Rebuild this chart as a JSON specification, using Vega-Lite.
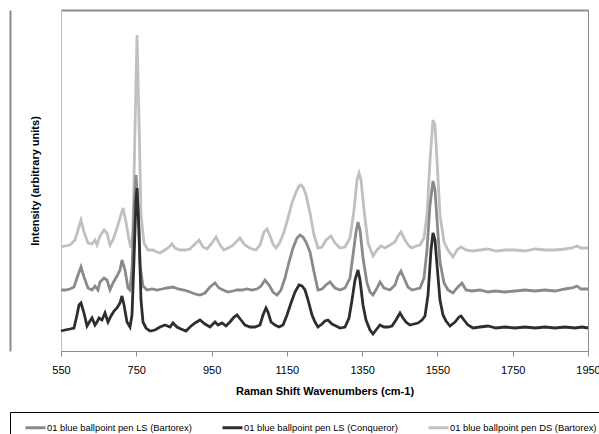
{
  "$schema": "https://vega.github.io/schema/vega-lite/v6.json",
  "width": 527,
  "height": 341,
  "autosize": {"type": "none"},
  "padding": {"left": 61, "top": 10, "right": 11, "bottom": 83},
  "background": "#ffffff",
  "config": {
    "view": {"stroke": "#8c8c8c", "strokeWidth": 1},
    "font": "Liberation Sans"
  },
  "resolve": {"axis": {"y": "independent", "x": "independent"}},
  "layer": [
    {
      "data": {"values": [
        {"wavenumber":550,"intensity":104},{"wavenumber":560.6,"intensity":105},{"wavenumber":573.9,"intensity":106},{"wavenumber":587.2,"intensity":111},{"wavenumber":595.2,"intensity":121},{"wavenumber":603.1,"intensity":131},{"wavenumber":611.1,"intensity":119},{"wavenumber":621.7,"intensity":108},{"wavenumber":632.4,"intensity":107},{"wavenumber":640.3,"intensity":111},{"wavenumber":645.6,"intensity":106},{"wavenumber":653.6,"intensity":115},{"wavenumber":664.2,"intensity":121},{"wavenumber":672.2,"intensity":118},{"wavenumber":680.2,"intensity":106},{"wavenumber":688.1,"intensity":111},{"wavenumber":698.8,"intensity":123},{"wavenumber":706.7,"intensity":133},{"wavenumber":714.7,"intensity":143},{"wavenumber":722.7,"intensity":129},{"wavenumber":730.6,"intensity":111},{"wavenumber":736.0,"intensity":103},{"wavenumber":741.3,"intensity":121},{"wavenumber":746.6,"intensity":221},{"wavenumber":751.9,"intensity":316},{"wavenumber":757.2,"intensity":231},{"wavenumber":762.5,"intensity":136},{"wavenumber":770.5,"intensity":108},{"wavenumber":781.1,"intensity":101},{"wavenumber":794.4,"intensity":101},{"wavenumber":805.0,"intensity":99},{"wavenumber":813.0,"intensity":98},{"wavenumber":826.3,"intensity":101},{"wavenumber":836.9,"intensity":104},{"wavenumber":844.9,"intensity":107},{"wavenumber":852.8,"intensity":103},{"wavenumber":866.1,"intensity":101},{"wavenumber":879.4,"intensity":101},{"wavenumber":892.7,"intensity":102},{"wavenumber":906.0,"intensity":107},{"wavenumber":916.6,"intensity":111},{"wavenumber":927.2,"intensity":104},{"wavenumber":937.9,"intensity":102},{"wavenumber":951.1,"intensity":108},{"wavenumber":961.8,"intensity":114},{"wavenumber":972.4,"intensity":106},{"wavenumber":983.0,"intensity":101},{"wavenumber":993.6,"intensity":103},{"wavenumber":1004.3,"intensity":105},{"wavenumber":1014.9,"intensity":109},{"wavenumber":1025.5,"intensity":113},{"wavenumber":1036.1,"intensity":107},{"wavenumber":1046.8,"intensity":104},{"wavenumber":1057.4,"intensity":102},{"wavenumber":1068.0,"intensity":101},{"wavenumber":1078.7,"intensity":106},{"wavenumber":1089.3,"intensity":119},{"wavenumber":1097.3,"intensity":122},{"wavenumber":1105.2,"intensity":115},{"wavenumber":1113.2,"intensity":107},{"wavenumber":1121.2,"intensity":103},{"wavenumber":1131.8,"intensity":109},{"wavenumber":1142.4,"intensity":119},{"wavenumber":1153.0,"intensity":133},{"wavenumber":1163.7,"intensity":148},{"wavenumber":1174.3,"intensity":159},{"wavenumber":1182.3,"intensity":165},{"wavenumber":1187.6,"intensity":166},{"wavenumber":1192.9,"intensity":164},{"wavenumber":1200.9,"intensity":156},{"wavenumber":1211.5,"intensity":138},{"wavenumber":1222.1,"intensity":116},{"wavenumber":1232.7,"intensity":103},{"wavenumber":1243.4,"intensity":104},{"wavenumber":1254.0,"intensity":111},{"wavenumber":1267.3,"intensity":115},{"wavenumber":1277.9,"intensity":108},{"wavenumber":1291.2,"intensity":103},{"wavenumber":1304.5,"intensity":104},{"wavenumber":1317.7,"intensity":113},{"wavenumber":1328.4,"intensity":141},{"wavenumber":1336.3,"intensity":171},{"wavenumber":1341.7,"intensity":178},{"wavenumber":1347.0,"intensity":171},{"wavenumber":1355.0,"intensity":141},{"wavenumber":1365.6,"intensity":108},{"wavenumber":1378.8,"intensity":95},{"wavenumber":1389.5,"intensity":101},{"wavenumber":1400.1,"intensity":105},{"wavenumber":1410.7,"intensity":103},{"wavenumber":1424.0,"intensity":106},{"wavenumber":1437.3,"intensity":109},{"wavenumber":1445.3,"intensity":115},{"wavenumber":1453.2,"intensity":119},{"wavenumber":1463.9,"intensity":111},{"wavenumber":1474.5,"intensity":105},{"wavenumber":1482.4,"intensity":103},{"wavenumber":1493.1,"intensity":105},{"wavenumber":1503.7,"intensity":106},{"wavenumber":1514.3,"intensity":113},{"wavenumber":1522.3,"intensity":136},{"wavenumber":1530.3,"intensity":191},{"wavenumber":1538.2,"intensity":231},{"wavenumber":1543.5,"intensity":226},{"wavenumber":1548.9,"intensity":191},{"wavenumber":1556.8,"intensity":136},{"wavenumber":1567.5,"intensity":109},{"wavenumber":1578.1,"intensity":101},{"wavenumber":1591.4,"intensity":94},{"wavenumber":1602.0,"intensity":101},{"wavenumber":1612.6,"intensity":104},{"wavenumber":1625.9,"intensity":101},{"wavenumber":1641.8,"intensity":100},{"wavenumber":1663.1,"intensity":101},{"wavenumber":1684.3,"intensity":102},{"wavenumber":1705.6,"intensity":100},{"wavenumber":1729.5,"intensity":101},{"wavenumber":1756.1,"intensity":101},{"wavenumber":1782.6,"intensity":100},{"wavenumber":1809.2,"intensity":102},{"wavenumber":1835.8,"intensity":101},{"wavenumber":1862.3,"intensity":101},{"wavenumber":1888.9,"intensity":102},{"wavenumber":1907.5,"intensity":103},{"wavenumber":1920.8,"intensity":105},{"wavenumber":1931.4,"intensity":103},{"wavenumber":1950,"intensity":103}
      ]},
      "mark": {"type": "line", "strokeWidth": 2.8, "interpolate": "linear"},
      "encoding": {
        "x": {"field": "wavenumber", "type": "quantitative",
          "scale": {"domain": [550, 1950], "nice": false, "zero": false},
          "axis": {"orient": "bottom", "values": [550, 750, 950, 1150, 1350, 1550, 1750, 1950], "format": "d", "title": "Raman Shift Wavenumbers (cm-1)",
            "grid": false, "domainColor": "#8c8c8c", "tickColor": "#8c8c8c", "tickSize": 5,
            "labelFont": "Liberation Sans", "labelFontSize": 11, "labelColor": "#000000", "labelPadding": 8, "labelFlush": false,
            "titleFont": "Liberation Sans", "titleFontSize": 11, "titleFontWeight": "bold", "titleColor": "#000000", "titlePadding": 10}},
        "y": {"field": "intensity", "type": "quantitative",
          "scale": {"domain": [0, 341], "nice": false},
          "axis": {"title": "Intensity (arbitrary units)", "grid": false, "ticks": false, "labels": false,
            "domainColor": "#c0c0c0", "titleFont": "Liberation Sans", "titleFontSize": 11, "titleFontWeight": "bold",
            "titleColor": "#000000", "titlePadding": 21}},
        "color": {"datum": "01 blue ballpoint pen DS (Bartorex)", "type": "nominal",
          "scale": {"domain": ["01 blue ballpoint pen LS (Bartorex)", "01 blue ballpoint pen LS (Conqueror)", "01 blue ballpoint pen DS (Bartorex)"],
                    "range": ["#8a8a8a", "#2e2e2e", "#c0c0c0"]},
          "legend": {"orient": "none", "legendX": -51, "legendY": 402, "direction": "horizontal", "columns": 3,
            "columnPadding": 19, "padding": 4, "strokeColor": "#000000", "symbolType": "M0,0H2", "symbolSize": 400,
            "symbolStrokeWidth": 3, "labelOffset": 10, "labelFont": "Liberation Sans", "labelFontSize": 9.4,
            "labelColor": "#000000", "title": null, "labelLimit": 300}}
      }
    },
    {
      "data": {"values": [
        {"wavenumber":550,"intensity":61},{"wavenumber":560.6,"intensity":61},{"wavenumber":573.9,"intensity":62},{"wavenumber":584.5,"intensity":64},{"wavenumber":595.2,"intensity":76},{"wavenumber":603.1,"intensity":84},{"wavenumber":611.1,"intensity":74},{"wavenumber":621.7,"intensity":63},{"wavenumber":632.4,"intensity":61},{"wavenumber":640.3,"intensity":65},{"wavenumber":648.3,"intensity":61},{"wavenumber":653.6,"intensity":69},{"wavenumber":664.2,"intensity":73},{"wavenumber":672.2,"intensity":71},{"wavenumber":680.2,"intensity":61},{"wavenumber":688.1,"intensity":68},{"wavenumber":698.8,"intensity":75},{"wavenumber":706.7,"intensity":81},{"wavenumber":712.0,"intensity":91},{"wavenumber":720.0,"intensity":81},{"wavenumber":728.0,"intensity":63},{"wavenumber":733.3,"intensity":61},{"wavenumber":738.6,"intensity":81},{"wavenumber":743.9,"intensity":141},{"wavenumber":749.2,"intensity":176},{"wavenumber":754.6,"intensity":146},{"wavenumber":759.9,"intensity":86},{"wavenumber":767.8,"intensity":65},{"wavenumber":778.5,"intensity":61},{"wavenumber":791.7,"intensity":62},{"wavenumber":805.0,"intensity":61},{"wavenumber":818.3,"intensity":62},{"wavenumber":831.6,"intensity":63},{"wavenumber":847.5,"intensity":64},{"wavenumber":860.8,"intensity":62},{"wavenumber":876.8,"intensity":61},{"wavenumber":892.7,"intensity":59},{"wavenumber":906.0,"intensity":57},{"wavenumber":919.3,"intensity":56},{"wavenumber":932.5,"intensity":58},{"wavenumber":945.8,"intensity":64},{"wavenumber":959.1,"intensity":68},{"wavenumber":969.7,"intensity":63},{"wavenumber":980.4,"intensity":61},{"wavenumber":993.6,"intensity":59},{"wavenumber":1006.9,"intensity":60},{"wavenumber":1017.6,"intensity":61},{"wavenumber":1030.8,"intensity":61},{"wavenumber":1044.1,"intensity":62},{"wavenumber":1057.4,"intensity":61},{"wavenumber":1070.7,"intensity":62},{"wavenumber":1081.3,"intensity":65},{"wavenumber":1091.9,"intensity":71},{"wavenumber":1102.6,"intensity":66},{"wavenumber":1113.2,"intensity":59},{"wavenumber":1123.8,"intensity":56},{"wavenumber":1134.4,"intensity":61},{"wavenumber":1145.1,"intensity":73},{"wavenumber":1155.7,"intensity":89},{"wavenumber":1166.3,"intensity":103},{"wavenumber":1177.0,"intensity":113},{"wavenumber":1184.9,"intensity":116},{"wavenumber":1192.9,"intensity":114},{"wavenumber":1200.9,"intensity":109},{"wavenumber":1211.5,"intensity":99},{"wavenumber":1222.1,"intensity":79},{"wavenumber":1232.7,"intensity":61},{"wavenumber":1243.4,"intensity":62},{"wavenumber":1254.0,"intensity":66},{"wavenumber":1264.6,"intensity":69},{"wavenumber":1277.9,"intensity":63},{"wavenumber":1291.2,"intensity":61},{"wavenumber":1304.5,"intensity":63},{"wavenumber":1317.7,"intensity":73},{"wavenumber":1325.7,"intensity":96},{"wavenumber":1333.7,"intensity":119},{"wavenumber":1339.0,"intensity":129},{"wavenumber":1344.3,"intensity":121},{"wavenumber":1352.3,"intensity":93},{"wavenumber":1362.9,"intensity":68},{"wavenumber":1370.9,"intensity":59},{"wavenumber":1378.8,"intensity":56},{"wavenumber":1389.5,"intensity":63},{"wavenumber":1397.4,"intensity":69},{"wavenumber":1408.1,"intensity":63},{"wavenumber":1424.0,"intensity":61},{"wavenumber":1437.3,"intensity":66},{"wavenumber":1445.3,"intensity":75},{"wavenumber":1453.2,"intensity":80},{"wavenumber":1461.2,"intensity":73},{"wavenumber":1471.8,"intensity":64},{"wavenumber":1482.4,"intensity":61},{"wavenumber":1493.1,"intensity":62},{"wavenumber":1503.7,"intensity":63},{"wavenumber":1514.3,"intensity":73},{"wavenumber":1522.3,"intensity":101},{"wavenumber":1530.3,"intensity":146},{"wavenumber":1538.2,"intensity":170},{"wavenumber":1543.5,"intensity":161},{"wavenumber":1548.9,"intensity":131},{"wavenumber":1556.8,"intensity":89},{"wavenumber":1567.5,"intensity":68},{"wavenumber":1578.1,"intensity":61},{"wavenumber":1591.4,"intensity":58},{"wavenumber":1602.0,"intensity":63},{"wavenumber":1615.3,"intensity":68},{"wavenumber":1625.9,"intensity":61},{"wavenumber":1641.8,"intensity":60},{"wavenumber":1663.1,"intensity":61},{"wavenumber":1684.3,"intensity":59},{"wavenumber":1702.9,"intensity":60},{"wavenumber":1729.5,"intensity":59},{"wavenumber":1756.1,"intensity":60},{"wavenumber":1782.6,"intensity":61},{"wavenumber":1809.2,"intensity":60},{"wavenumber":1835.8,"intensity":61},{"wavenumber":1862.3,"intensity":60},{"wavenumber":1888.9,"intensity":62},{"wavenumber":1907.5,"intensity":63},{"wavenumber":1920.8,"intensity":65},{"wavenumber":1931.4,"intensity":62},{"wavenumber":1950,"intensity":62}
      ]},
      "mark": {"type": "line", "strokeWidth": 2.8, "interpolate": "linear"},
      "encoding": {
        "x": {"field": "wavenumber", "type": "quantitative",
          "axis": {"orient": "top", "title": null, "grid": false, "ticks": false, "labels": false,
            "domainColor": "#8c8c8c", "domainWidth": 2}},
        "y": {"field": "intensity", "type": "quantitative",
          "axis": {"orient": "left", "offset": 51, "title": null, "grid": false, "ticks": false, "labels": false,
            "domainColor": "#8c8c8c", "domainWidth": 2}},
        "color": {"datum": "01 blue ballpoint pen LS (Bartorex)", "type": "nominal"}
      }
    },
    {
      "data": {"values": [
        {"wavenumber":550,"intensity":20},{"wavenumber":560.6,"intensity":21},{"wavenumber":573.9,"intensity":22},{"wavenumber":584.5,"intensity":23},{"wavenumber":592.5,"intensity":36},{"wavenumber":597.8,"intensity":46},{"wavenumber":603.1,"intensity":48},{"wavenumber":611.1,"intensity":38},{"wavenumber":619.1,"intensity":25},{"wavenumber":627.0,"intensity":30},{"wavenumber":632.4,"intensity":33},{"wavenumber":640.3,"intensity":26},{"wavenumber":645.6,"intensity":29},{"wavenumber":650.9,"intensity":33},{"wavenumber":658.9,"intensity":31},{"wavenumber":666.9,"intensity":38},{"wavenumber":674.9,"intensity":29},{"wavenumber":682.8,"intensity":35},{"wavenumber":690.8,"intensity":40},{"wavenumber":698.8,"intensity":43},{"wavenumber":706.7,"intensity":48},{"wavenumber":712.0,"intensity":55},{"wavenumber":717.4,"intensity":46},{"wavenumber":725.3,"intensity":29},{"wavenumber":733.3,"intensity":24},{"wavenumber":738.6,"intensity":36},{"wavenumber":743.9,"intensity":91},{"wavenumber":749.2,"intensity":151},{"wavenumber":751.9,"intensity":163},{"wavenumber":757.2,"intensity":121},{"wavenumber":762.5,"intensity":51},{"wavenumber":767.8,"intensity":29},{"wavenumber":775.8,"intensity":23},{"wavenumber":786.4,"intensity":20},{"wavenumber":799.7,"intensity":21},{"wavenumber":813.0,"intensity":24},{"wavenumber":826.3,"intensity":26},{"wavenumber":839.6,"intensity":24},{"wavenumber":847.5,"intensity":28},{"wavenumber":858.2,"intensity":24},{"wavenumber":868.8,"intensity":22},{"wavenumber":882.1,"intensity":20},{"wavenumber":892.7,"intensity":24},{"wavenumber":906.0,"intensity":28},{"wavenumber":919.3,"intensity":31},{"wavenumber":932.5,"intensity":27},{"wavenumber":945.8,"intensity":24},{"wavenumber":959.1,"intensity":29},{"wavenumber":967.1,"intensity":26},{"wavenumber":977.7,"intensity":28},{"wavenumber":988.3,"intensity":25},{"wavenumber":998.8,"intensity":29},{"wavenumber":1009.6,"intensity":34},{"wavenumber":1017.6,"intensity":36},{"wavenumber":1028.2,"intensity":31},{"wavenumber":1038.8,"intensity":26},{"wavenumber":1052.1,"intensity":24},{"wavenumber":1065.4,"intensity":24},{"wavenumber":1078.7,"intensity":26},{"wavenumber":1086.6,"intensity":36},{"wavenumber":1094.6,"intensity":43},{"wavenumber":1099.9,"intensity":39},{"wavenumber":1107.9,"intensity":29},{"wavenumber":1118.5,"intensity":26},{"wavenumber":1129.1,"intensity":24},{"wavenumber":1139.8,"intensity":26},{"wavenumber":1150.4,"intensity":36},{"wavenumber":1161.0,"intensity":48},{"wavenumber":1171.6,"intensity":59},{"wavenumber":1182.3,"intensity":66},{"wavenumber":1190.2,"intensity":65},{"wavenumber":1198.2,"intensity":61},{"wavenumber":1206.2,"intensity":51},{"wavenumber":1216.8,"intensity":36},{"wavenumber":1224.8,"intensity":29},{"wavenumber":1232.7,"intensity":24},{"wavenumber":1243.4,"intensity":27},{"wavenumber":1251.3,"intensity":30},{"wavenumber":1259.3,"intensity":31},{"wavenumber":1269.9,"intensity":27},{"wavenumber":1280.6,"intensity":25},{"wavenumber":1291.2,"intensity":23},{"wavenumber":1304.5,"intensity":24},{"wavenumber":1315.1,"intensity":33},{"wavenumber":1323.1,"intensity":51},{"wavenumber":1331.0,"intensity":71},{"wavenumber":1339.0,"intensity":81},{"wavenumber":1344.3,"intensity":71},{"wavenumber":1352.3,"intensity":46},{"wavenumber":1360.3,"intensity":31},{"wavenumber":1370.9,"intensity":21},{"wavenumber":1378.8,"intensity":17},{"wavenumber":1386.8,"intensity":21},{"wavenumber":1397.4,"intensity":26},{"wavenumber":1408.1,"intensity":24},{"wavenumber":1418.7,"intensity":24},{"wavenumber":1429.3,"intensity":25},{"wavenumber":1439.9,"intensity":31},{"wavenumber":1450.6,"intensity":38},{"wavenumber":1458.5,"intensity":33},{"wavenumber":1466.5,"intensity":29},{"wavenumber":1477.1,"intensity":26},{"wavenumber":1487.8,"intensity":27},{"wavenumber":1498.4,"intensity":28},{"wavenumber":1509.0,"intensity":31},{"wavenumber":1517.0,"intensity":35},{"wavenumber":1525.0,"intensity":56},{"wavenumber":1532.9,"intensity":101},{"wavenumber":1538.2,"intensity":118},{"wavenumber":1543.5,"intensity":111},{"wavenumber":1548.9,"intensity":86},{"wavenumber":1556.8,"intensity":51},{"wavenumber":1564.8,"intensity":36},{"wavenumber":1572.8,"intensity":30},{"wavenumber":1583.4,"intensity":25},{"wavenumber":1596.7,"intensity":29},{"wavenumber":1607.3,"intensity":34},{"wavenumber":1612.6,"intensity":35},{"wavenumber":1620.6,"intensity":31},{"wavenumber":1631.2,"intensity":26},{"wavenumber":1644.5,"intensity":23},{"wavenumber":1663.1,"intensity":24},{"wavenumber":1684.3,"intensity":25},{"wavenumber":1705.6,"intensity":23},{"wavenumber":1729.5,"intensity":24},{"wavenumber":1756.1,"intensity":23},{"wavenumber":1782.6,"intensity":24},{"wavenumber":1809.2,"intensity":23},{"wavenumber":1835.8,"intensity":24},{"wavenumber":1862.3,"intensity":23},{"wavenumber":1888.9,"intensity":24},{"wavenumber":1915.5,"intensity":23},{"wavenumber":1934.1,"intensity":24},{"wavenumber":1950,"intensity":23}
      ]},
      "mark": {"type": "line", "strokeWidth": 2.8, "interpolate": "linear"},
      "encoding": {
        "x": {"field": "wavenumber", "type": "quantitative", "axis": null},
        "y": {"field": "intensity", "type": "quantitative", "axis": null},
        "color": {"datum": "01 blue ballpoint pen LS (Conqueror)", "type": "nominal"}
      }
    }
  ]
}
